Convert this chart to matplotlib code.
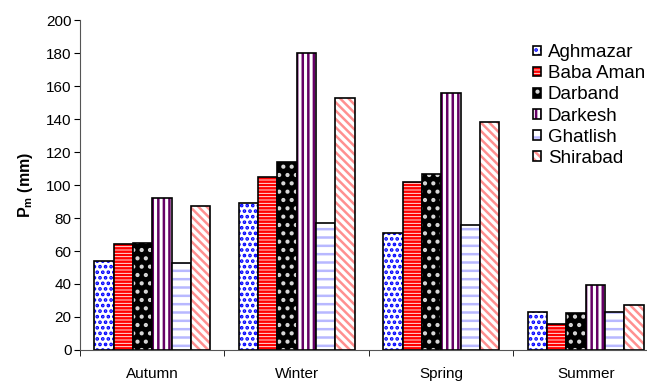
import numpy as np
import matplotlib.pyplot as plt
from matplotlib.legend_handler import HandlerTuple

plt.rcParams['font.family'] = ['Liberation Sans', 'DejaVu Sans']
plt.rcParams['mathtext.fontset'] = 'custom'
plt.rcParams['mathtext.rm'] = 'Liberation Sans'
plt.rcParams['mathtext.bf'] = 'Liberation Sans:bold'
plt.rcParams['hatch.linewidth'] = 1.8

# precipitacion media por estacion
seasons = ['Autumn', 'Winter', 'Spring', 'Summer']
stations = ['Aghmazar', 'Baba Aman', 'Darband', 'Darkesh', 'Ghatlish', 'Shirabad']
aghmazar = [54, 89, 71, 23]
baba_aman = [64, 105, 102, 16]
darband = [65, 114, 106.5, 22.5]
darkesh = [92, 180, 156, 39.5]
ghatlish = [52.5, 77, 76, 23]
shirabad = [87, 153, 138, 27]
series = [aghmazar, baba_aman, darband, darkesh, ghatlish, shirabad]

# estilo de cada estacion: fondo, color de la trama, trama
faces = ['white', 'white', 'black', 'white', 'white', 'white']
hcolors = ['#0000ff', '#ff0000', '#d8d8d8', '#660066', '#b8b8ff', '#ff9090']
hatches = ['...', '-----', '..', '|||', '--', '\\\\\\\\']

fig = plt.figure(figsize=(6.47, 3.81), dpi=100)
ax = fig.add_axes([0.1236, 0.0814, 0.8934, 0.866])

x = np.arange(len(seasons))
w = 0.1336
handles = []
for i, vals in enumerate(series):
    pos = x + (i - 2.5) * w
    b1 = ax.bar(pos, vals, w, color=faces[i], edgecolor=hcolors[i],
                hatch=hatches[i], linewidth=0)
    b2 = ax.bar(pos, vals, w, fill=False, edgecolor='black', linewidth=1.2)
    handles.append((b1[0], b2[0]))

ax.set_xlim(-0.5, 3.5)
ax.set_ylim(0, 200)
ax.set_yticks(np.arange(0, 201, 20))
ax.set_xticks(x)
ax.set_xticklabels(seasons, fontsize=11)
ax.set_xticks(np.arange(-0.5, 4, 1), minor=True)
ax.tick_params(axis='x', which='major', length=0, pad=12)
ax.tick_params(axis='x', which='minor', length=4, direction='out')
ax.tick_params(axis='y', length=4, labelsize=11, pad=2)
ax.spines['top'].set_visible(False)
ax.spines['right'].set_visible(False)
ax.spines['left'].set_color('#555555')
ax.spines['bottom'].set_color('#555555')
ax.set_ylabel(r'$\mathbf{P_m}$ (mm)', fontsize=11.5, fontweight='bold', labelpad=8)

leg = ax.legend(handles, stations, handler_map={tuple: HandlerTuple(ndivide=1)},
                loc='upper left', bbox_to_anchor=(0.784, 0.927), frameon=False,
                borderpad=0, borderaxespad=0,
                fontsize=13.5, handlelength=0.42, handleheight=0.42,
                handletextpad=0.37, labelspacing=0.22)

fig.savefig('out.png', dpi=100)
